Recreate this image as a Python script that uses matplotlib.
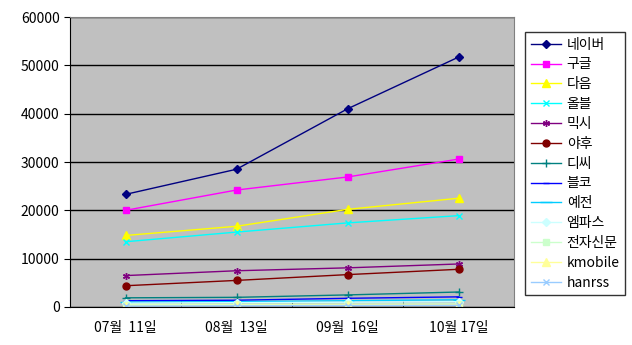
import matplotlib.pyplot as plt
import numpy as np

plt.rcParams['font.family'] = ['Noto Sans CJK KR', 'DejaVu Sans']

dates = ['07월  11일', '08월  13일', '09월  16일', '10월 17일']
series_names = ['네이버', '구글', '다음', '올블', '믹시', '야후', '디씨', '블코', '예전',
                '엠파스', '전자신문', 'kmobile', 'hanrss']

naver = [23300, 28500, 41000, 51700]
google = [20000, 24200, 26900, 30600]
daum = [14800, 16700, 20200, 22500]
allblog = [13500, 15500, 17400, 18900]
mixsh = [6500, 7500, 8100, 8900]
yahoo = [4400, 5500, 6700, 7800]
dc = [1900, 2000, 2500, 3100]
blogco = [1300, 1400, 1800, 2100]
yejeon = [1000, 1100, 1300, 1500]
empas = [800, 900, 1000, 1100]
etnews = [500, 550, 600, 650]
kmobile = [300, 350, 400, 450]
hanrss = [200, 250, 300, 350]

values = [naver, google, daum, allblog, mixsh, yahoo, dc, blogco, yejeon,
          empas, etnews, kmobile, hanrss]
colors = ['#000080', '#FF00FF', '#FFFF00', '#00FFFF', '#800080', '#800000',
          '#008080', '#0000FF', '#00CCFF', '#CCFFFF', '#CCFFCC', '#FFFF99', '#99CCFF']
markers = ['D', 's', '^', 'x', (6, 2, 0), 'o', '+', '_', '_', 'D', 's', '^', 'x']
msizes = [4, 5, 6, 4, 5, 5, 6, 5, 8, 4, 5, 6, 4]

fig = plt.figure(figsize=(6.32, 3.45), dpi=100)
ax = fig.add_axes([70 / 632, 38 / 345, 444 / 632, 290 / 345])
ax.set_facecolor('#C0C0C0')

x = np.arange(len(dates))
for name, vals, c, m, ms in zip(series_names, values, colors, markers, msizes):
    ax.plot(x, vals, color=c, marker=m, markersize=ms, linewidth=1,
            markeredgewidth=1, label=name)

ax.set_xlim(-0.5, 3.5)
ax.set_ylim(0, 60000)
ax.set_yticks(np.arange(0, 60001, 10000))
ax.set_xticks(x)
ax.set_xticklabels(dates, fontsize=10)
ax.set_xticks(np.arange(0.5, 3, 1), minor=True)
ax.tick_params(axis='x', which='major', length=0, pad=10)
ax.tick_params(axis='x', which='minor', direction='in', length=4)
ax.tick_params(axis='y', labelsize=10, length=4, direction='out')
ax.grid(axis='y', color='black', linewidth=1)
ax.set_axisbelow(True)
for s in ['top', 'right']:
    ax.spines[s].set_color('#808080')
for s in ['left', 'bottom']:
    ax.spines[s].set_color('black')

leg = fig.legend(loc='upper left', bbox_to_anchor=(525 / 632, 1 - 32 / 345),
                 fontsize=10, frameon=True, fancybox=False, edgecolor='black',
                 borderpad=0.4, labelspacing=0.42, handlelength=2.2,
                 handletextpad=0.4, borderaxespad=0)
leg.get_frame().set_linewidth(1)

fig.savefig('out.png', dpi=100)
